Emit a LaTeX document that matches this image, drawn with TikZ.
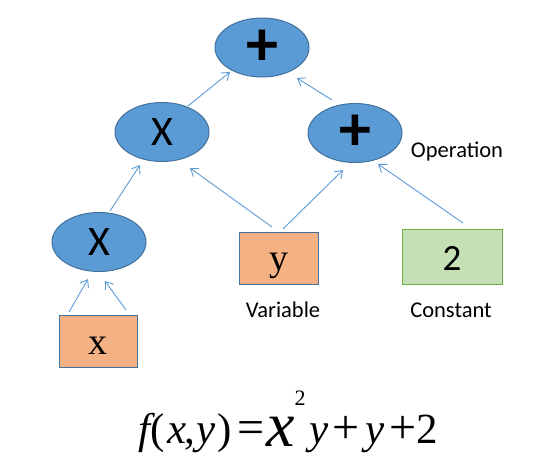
\documentclass[tikz,border=0pt]{standalone}
\usepackage{fontspec}
\setmainfont{Carlito}
\newfontfamily\tnr{Liberation Serif}
\usetikzlibrary{shapes.geometric,arrows.meta,calc}
\definecolor{opfill}{HTML}{5B9BD5}
\definecolor{opedge}{HTML}{41719C}
\definecolor{varfill}{HTML}{F4B183}
\definecolor{cstfill}{HTML}{C5E0B4}
\definecolor{cstedge}{HTML}{70AD47}
\tikzset{
  opnode/.style={ellipse, draw=opedge, fill=opfill, line width=1pt, minimum width=94pt, minimum height=59pt, inner sep=0pt},
  plusfont/.style={font=\bfseries\fontsize{64}{64}\selectfont},
  varnode/.style={rectangle, draw=opedge, fill=varfill, line width=1pt, minimum width=79pt, minimum height=52pt, inner sep=0pt, font=\tnr\fontsize{38}{38}\selectfont},
  cstnode/.style={rectangle, draw=cstedge, fill=cstfill, line width=1pt, minimum width=100pt, minimum height=55pt, inner sep=0pt, font=\fontsize{37}{37}\selectfont},
  lbl/.style={inner sep=0pt, font=\fontsize{22.5}{22.5}\selectfont},
  conn/.style={draw=opfill, line width=0.9pt, -{Straight Barb[length=7pt,width=10pt,line width=0.9pt]}},
  fm/.style={inner sep=0pt, anchor=base, font=\tnr\fontsize{43}{43}\selectfont},
  fmplus/.style={fm, font=\tnr\fontsize{48}{48}\selectfont},
}
\begin{document}
\begin{tikzpicture}[x=1pt,y=-1pt]
\useasboundingbox (0,0) rectangle (537,460);
% operation nodes
\node[opnode, plusfont] (top) at (262,47.5) {+};
\node[opnode, font=\fontsize{42}{42}\selectfont] (midx) at (162,132) {X};
\node[opnode, plusfont] (midp) at (355,133) {+};
\node[opnode, font=\fontsize{42}{42}\selectfont] (botx) at (99,242) {X};
% leaves
\node[varnode, text height=25pt, text depth=2pt] (yr) at (278.5,258.5) {y};
\node[cstnode, text height=27pt, text depth=0pt] (cr) at (452,256.5) {2};
\node[varnode, minimum width=78pt, text height=27pt, text depth=1pt] (xr) at (98,341) {x};
% labels
\node[lbl] (lop) at (457,152) {Operation};
\node[lbl] (lvar) at (283,310) {Variable};
\node[lbl] (lcst) at (451,310) {Constant};
% connectors
\draw[conn] ($(midx)+(26,-26)$) -- ($(top)+(-32,24.5)$);
\draw[conn] ($(midp)+(-23,-33)$) -- ($(top)+(35,30.5)$);
\draw[conn] ($(botx)+(11,-31)$) -- ($(midx)+(-22,33)$);
\draw[conn] ($(yr)+(-6.5,-31.5)$) -- ($(midx)+(28,36)$);
\draw[conn] ($(yr)+(4.5,-29.5)$) -- ($(midp)+(-12,37)$);
\draw[conn] ($(cr)+(11,-33.5)$) -- ($(midp)+(23,31)$);
\draw[conn] ($(xr)+(-29,-29)$) -- ($(botx)+(-11,37)$);
\draw[conn] ($(xr)+(28,-31)$) -- ($(botx)+(6,39)$);
% formula
\node[fm] (ff) at (144,443) {\itshape f};
\node[fm] (fo) at (158,443) {(};
\node[fm] (fx) at (177,443) {\itshape x};
\node[fm] (fc) at (190,443) {,};
\node[fm] (fy) at (206,443) {\itshape y};
\node[fm] (fcl) at (225,443) {)};
\node[fmplus] (feq) at (251,443) {=};
\node[fm, font=\tnr\itshape\fontsize{64}{64}\selectfont] (fbx) at (281,446) {x};
\node[fm, font=\tnr\fontsize{22}{22}\selectfont] (fsq) at (300,405) {2};
\node[fm] (fy2) at (319,443) {\itshape y};
\node[fmplus] (fp1) at (346.5,443) {+};
\node[fm] (fy3) at (375,443) {\itshape y};
\node[fmplus] (fp2) at (403,443) {+};
\node[fm] (ftwo) at (427,443) {2};
\end{tikzpicture}
\end{document}
